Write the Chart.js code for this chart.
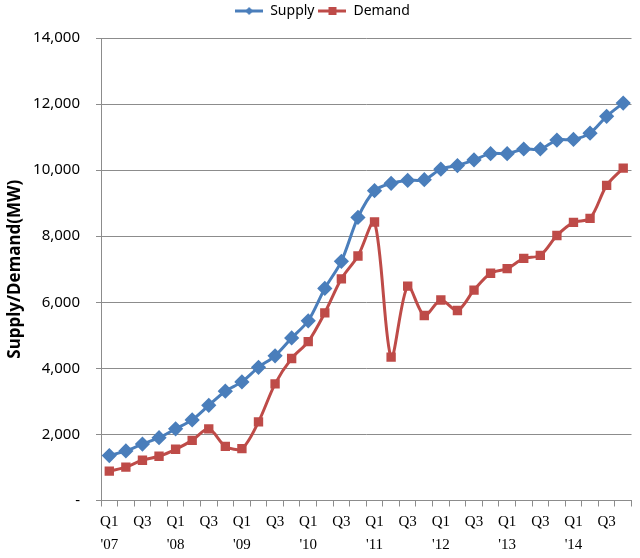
<!DOCTYPE html>
<html lang="en">
<head>
<meta charset="UTF-8">
<title>Supply / Demand</title>
<script src="https://cdn.jsdelivr.net/npm/chart.js"></script>
<style>
  html, body { margin: 0; padding: 0; background: #fff; }
  #wrap { width: 640px; height: 558px; position: relative; }
</style>
</head>
<body>
<div id="wrap"><canvas id="chart"></canvas></div>
<script>
// quarters Q1 '07 .. Q4 '14
const quarters = [
  ['Q1', "'07"], '', 'Q3', '',
  ['Q1', "'08"], '', 'Q3', '',
  ['Q1', "'09"], '', 'Q3', '',
  ['Q1', "'10"], '', 'Q3', '',
  ['Q1', "'11"], '', 'Q3', '',
  ['Q1', "'12"], '', 'Q3', '',
  ['Q1', "'13"], '', 'Q3', '',
  ['Q1', "'14"], '', 'Q3', ''
];
const supply = [
  1360, 1500, 1710, 1900, 2170, 2440, 2880, 3310,
  3590, 4030, 4380, 4920, 5440, 6420, 7240, 8570,
  9380, 9600, 9690, 9710, 10030, 10140, 10310, 10500,
  10500, 10640, 10640, 10910, 10930, 11120, 11630, 12030
];
const demand = [
  890, 1010, 1220, 1340, 1550, 1820, 2170, 1640,
  1570, 2380, 3530, 4300, 4810, 5680, 6710, 7400,
  8430, 4340, 6490, 5600, 6070, 5750, 6370, 6880,
  7020, 7330, 7420, 8020, 8420, 8540, 9540, 10060
];
const yTicks = [0, 2000, 4000, 6000, 8000, 10000, 12000, 14000];

const blue = '#4a7ebb';
const red = '#be4b48';

function legendIcon(color, style) {
  const c = document.createElement('canvas');
  c.width = 28; c.height = 12;
  const g = c.getContext('2d');
  g.strokeStyle = color; g.lineWidth = 3;
  g.beginPath(); g.moveTo(0, 6); g.lineTo(28, 6); g.stroke();
  g.fillStyle = color;
  if (style === 'diamond') {
    g.beginPath(); g.moveTo(14, 2); g.lineTo(18, 6); g.lineTo(14, 10); g.lineTo(10, 6); g.closePath(); g.fill();
  } else {
    g.fillRect(10, 2, 8, 8);
  }
  return c;
}
const icons = [legendIcon(blue, 'diamond'), legendIcon(red, 'square')];

const gridGray = '#8c8c8c';

// extra room under the legend
const legendGap = {
  id: 'legendGap',
  beforeInit(chart) {
    const fit = chart.legend.fit;
    chart.legend.fit = function () {
      fit.bind(chart.legend)();
      this.height += 10;
    };
  }
};

new Chart(document.getElementById('chart'), {
  type: 'line',
  plugins: [legendGap],
  data: {
    labels: quarters,
    datasets: [
      {
        label: 'Supply',
        data: supply,
        borderColor: blue,
        backgroundColor: blue,
        borderWidth: 3,
        tension: 0.3,
        pointStyle: 'rectRot',
        pointRadius: 5.5,
        pointHoverRadius: 5.5
      },
      {
        label: 'Demand',
        data: demand,
        borderColor: red,
        backgroundColor: red,
        borderWidth: 3,
        tension: 0.3,
        pointStyle: 'rect',
        pointRadius: 4.5,
        pointHoverRadius: 4.5
      }
    ]
  },
  options: {
    responsive: true,
    maintainAspectRatio: false,
    animation: false,
    layout: { padding: { left: 5, right: 0, top: 0, bottom: 0 } },
    plugins: {
      legend: {
        position: 'top',
        labels: {
          usePointStyle: true,
          pointStyleWidth: 28,
          boxHeight: 12,
          color: '#000',
          font: { family: 'Noto Sans', size: 14 },
          padding: 4,
          generateLabels: chart => chart.data.datasets.map((ds, i) => ({
            text: ds.label,
            pointStyle: icons[i],
            fillStyle: ds.borderColor,
            strokeStyle: ds.borderColor,
            lineWidth: 0,
            datasetIndex: i,
            fontColor: '#000'
          }))
        }
      },
      tooltip: { enabled: false }
    },
    scales: {
      x: {
        type: 'category',
        offset: true,
        afterFit: axis => { axis.height -= 3; },
        grid: {
          offset: true,
          drawOnChartArea: false,
          drawTicks: true,
          tickLength: 6,
          color: gridGray
        },
        border: { display: true, color: gridGray },
        ticks: {
          autoSkip: false,
          maxRotation: 0,
          color: '#000',
          padding: 4,
          font: { family: 'Liberation Serif', size: 15, lineHeight: 1.55 }
        }
      },
      y: {
        min: 0,
        max: 14000,
        afterBuildTicks: axis => { axis.ticks = yTicks.map(v => ({ value: v })); },
        afterFit: axis => { axis.width = 96; },
        grid: {
          color: gridGray,
          drawTicks: true,
          tickLength: 5
        },
        border: { display: true, color: gridGray },
        ticks: {
          color: '#000',
          padding: 16,
          font: { family: 'Noto Sans', size: 15 },
          callback: v => v === 0 ? '-' : v.toLocaleString('en-US')
        },
        title: {
          display: true,
          text: 'Supply/Demand(MW)',
          color: '#000',
          font: { family: 'Noto Sans', size: 17, weight: 'bold' },
          padding: { top: 0, bottom: 4 }
        }
      }
    }
  }
});
</script>
</body>
</html>
